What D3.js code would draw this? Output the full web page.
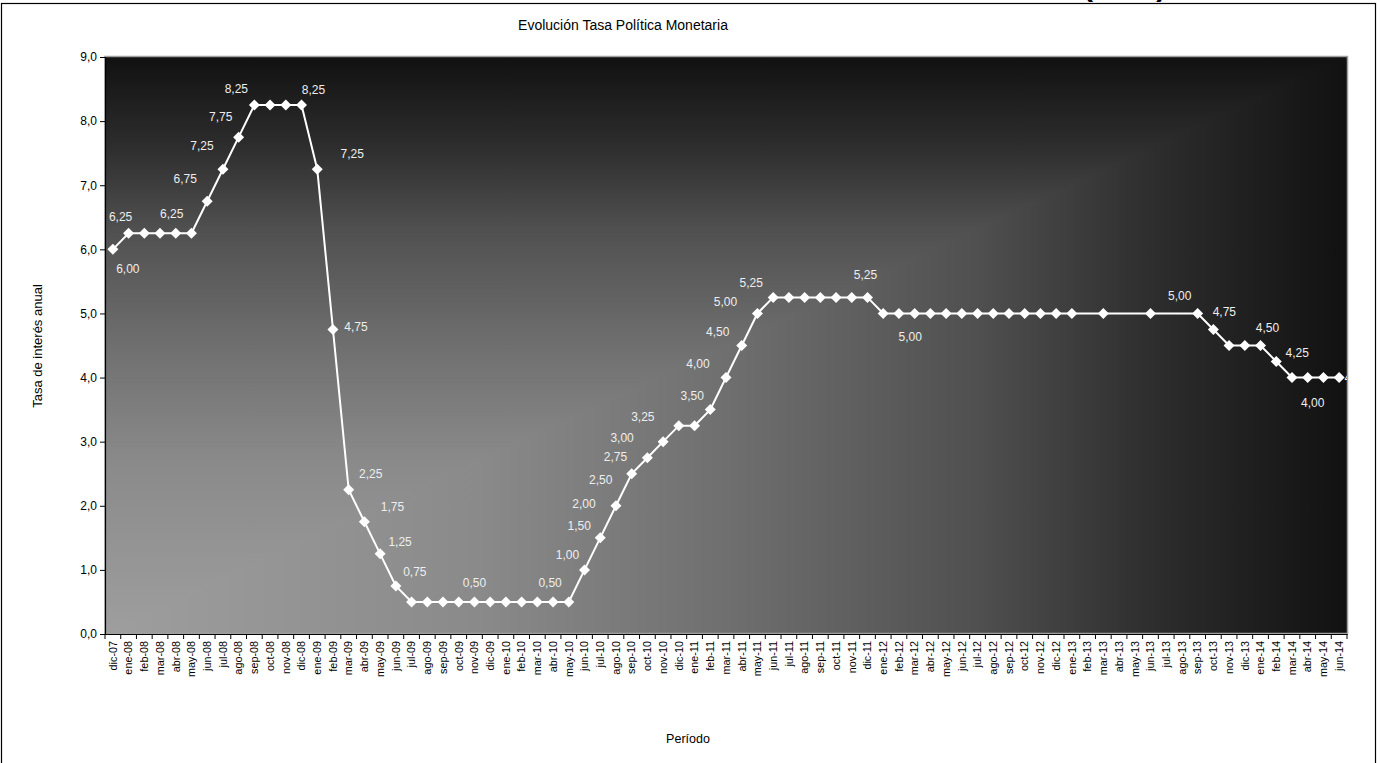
<html>
<head>
<meta charset="utf-8">
<script src="https://d3js.org/d3.v7.min.js"></script>
<style>
  body { margin: 0; background: #fff; }
  text { font-family: "Liberation Sans", Arial, sans-serif; }
</style>
</head>
<body>
<script>
// Tasa de Política Monetaria, dic-07 .. jun-14 (null = month without meeting)
const months = [
  "dic-07",
  "ene-08","feb-08","mar-08","abr-08","may-08","jun-08","jul-08","ago-08","sep-08","oct-08","nov-08","dic-08",
  "ene-09","feb-09","mar-09","abr-09","may-09","jun-09","jul-09","ago-09","sep-09","oct-09","nov-09","dic-09",
  "ene-10","feb-10","mar-10","abr-10","may-10","jun-10","jul-10","ago-10","sep-10","oct-10","nov-10","dic-10",
  "ene-11","feb-11","mar-11","abr-11","may-11","jun-11","jul-11","ago-11","sep-11","oct-11","nov-11","dic-11",
  "ene-12","feb-12","mar-12","abr-12","may-12","jun-12","jul-12","ago-12","sep-12","oct-12","nov-12","dic-12",
  "ene-13","feb-13","mar-13","abr-13","may-13","jun-13","jul-13","ago-13","sep-13","oct-13","nov-13","dic-13",
  "ene-14","feb-14","mar-14","abr-14","may-14","jun-14"
];
const tpm = [
  6.00,
  6.25,6.25,6.25,6.25,6.25,6.75,7.25,7.75,8.25,8.25,8.25,8.25,
  7.25,4.75,2.25,1.75,1.25,0.75,0.50,0.50,0.50,0.50,0.50,0.50,
  0.50,0.50,0.50,0.50,0.50,1.00,1.50,2.00,2.50,2.75,3.00,3.25,
  3.25,3.50,4.00,4.50,5.00,5.25,5.25,5.25,5.25,5.25,5.25,5.25,
  5.00,5.00,5.00,5.00,5.00,5.00,5.00,5.00,5.00,5.00,5.00,5.00,
  5.00,null,5.00,null,null,5.00,null,null,5.00,4.75,4.50,4.50,
  4.50,4.25,4.00,4.00,4.00,4.00
];
const yTicks = [0,1,2,3,4,5,6,7,8,9];

// months that carry a data label, and where the label sits relative to the point
const labelled = ["dic-07","ene-08","abr-08","jun-08","jul-08","ago-08","sep-08","dic-08",
  "ene-09","feb-09","mar-09","abr-09","may-09","jun-09","nov-09","abr-10",
  "jun-10","jul-10","ago-10","sep-10","oct-10","nov-10","dic-10",
  "feb-11","mar-11","abr-11","may-11","jun-11","dic-11","ene-12",
  "sep-13","oct-13","ene-14","feb-14","abr-14","jun-14"];
const labelShift = [[15,19],[-8,-17],[-4,-20],[-22,-22],[-21,-23],[-18,-20],[-18,-16],[12,-15],
  [35,-15],[23,-3],[22,-16],[28,-15],[20,-12],[19,-14],[0,-19],[-3,-19],
  [-17,-15],[-21,-12],[-32,-2],[-31,6],[-32,-1],[-41,-4],[-36,-9],
  [-18,-14],[-28,-14],[-24,-14],[-32,-12],[-22,-15],[-2,-23],[27,23],
  [-18,-18],[11,-18],[7,-18],[21,-9],[5,25],[17,0]];

const W = 1381, H = 763;
const plot = {left: 105, right: 1347, top: 57, bottom: 634};
const fmt = d => d.toFixed(2).replace(".", ",");

const svg = d3.select("body").append("svg").attr("width", W).attr("height", H);

// chart frame and the cut-off heading above it
svg.append("text").attr("x", 1083).attr("y", -4)
  .attr("font-size", 30).attr("font-weight", "bold").text("(TPM)");
svg.append("rect").attr("x", 1.5).attr("y", 3.5).attr("width", 1374).attr("height", H)
  .attr("fill", "none").attr("stroke", "#000").attr("stroke-width", 1.2);

let x = d3.scaleBand().domain(months).range([plot.left, plot.right]);
let y = d3.scaleLinear().domain([0, 9]).range([plot.bottom, plot.top]);
let cx = m => x(m) + x.bandwidth() / 2;

// "from corner" shading: t = max(horizontal, vertical) distance from the bottom-left
const defs = svg.append("defs");
const stops = [[0,"#9e9e9e"],[0.3,"#8a8a8a"],[0.5,"#6f6f6f"],[0.7,"#505050"],[0.85,"#2c2c2c"],[1,"#111111"]];
function grad(id, x1, y1, x2, y2){
  let g = defs.append("linearGradient").attr("id", id)
    .attr("x1", x1).attr("y1", y1).attr("x2", x2).attr("y2", y2);
  stops.forEach(s => g.append("stop").attr("offset", s[0]).attr("stop-color", s[1]));
}
grad("gH", 0, 0, 1, 0);
grad("gV", 0, 1, 0, 0);
defs.append("clipPath").attr("id", "plotClip").append("rect")
  .attr("x", plot.left).attr("y", plot.top)
  .attr("width", plot.right - plot.left).attr("height", plot.bottom - plot.top);

svg.append("rect").attr("x", plot.left).attr("y", plot.top)
  .attr("width", plot.right - plot.left).attr("height", plot.bottom - plot.top)
  .attr("fill", "url(#gH)");
svg.append("polygon")
  .attr("points", [[plot.left, plot.bottom],[plot.left, plot.top],[plot.right, plot.top]].join(" "))
  .attr("fill", "url(#gV)");
svg.append("rect").attr("x", plot.left).attr("y", plot.top - 0.5)
  .attr("width", plot.right - plot.left + 0.5).attr("height", plot.bottom - plot.top)
  .attr("fill", "none").attr("stroke", "#a0a0a0").attr("stroke-width", 1.5);

// axes
let yAxis = svg.append("g").attr("transform", `translate(${plot.left},0)`)
  .call(d3.axisLeft(y).tickValues(yTicks).tickSize(5).tickPadding(3).tickFormat(d => d.toFixed(1).replace(".", ",")));
yAxis.selectAll("text").attr("font-size", 12).attr("font-family", "Liberation Sans, Arial").attr("fill", "#000");

let xAxis = svg.append("g").attr("transform", `translate(0,${plot.bottom})`)
  .call(d3.axisBottom(x).tickSize(0).tickPadding(0));
xAxis.selectAll(".tick text")
  .attr("font-size", 10.8).attr("font-family", "Liberation Sans, Arial").attr("fill", "#000")
  .attr("transform", "rotate(-90)").attr("text-anchor", "end")
  .attr("x", -7).attr("y", 0).attr("dy", "0.35em");
// tick marks between categories
xAxis.selectAll(".sep").data(months.concat(["end"])).join("line")
  .attr("x1", (d, i) => plot.left + i * x.bandwidth())
  .attr("x2", (d, i) => plot.left + i * x.bandwidth())
  .attr("y1", 0).attr("y2", 5).attr("stroke", "#000");
svg.selectAll(".domain").attr("stroke", "#000").attr("stroke-width", 1.2);

// series
let pts = months.map((m, i) => ({m: m, v: tpm[i]})).filter(d => d.v !== null);
let g = svg.append("g").attr("clip-path", "url(#plotClip)");
g.append("path").datum(pts)
  .attr("d", d3.line().x(d => cx(d.m)).y(d => y(d.v)))
  .attr("fill", "none").attr("stroke", "#fff").attr("stroke-width", 2);
const s = 5.5;
g.selectAll(".mk").data(pts).join("path")
  .attr("d", `M0,${-s}L${s},0L0,${s}L${-s},0Z`)
  .attr("transform", d => `translate(${cx(d.m)},${y(d.v)})`)
  .attr("fill", "#fff");

g.selectAll(".lbl").data(labelled).join("text")
  .attr("x", (m, i) => cx(m) + labelShift[i][0])
  .attr("y", (m, i) => y(tpm[months.indexOf(m)]) + labelShift[i][1])
  .attr("text-anchor", "middle").attr("dy", "0.35em")
  .attr("font-size", 12).attr("fill", "#eeeeee")
  .text(m => fmt(tpm[months.indexOf(m)]));

// titles
svg.append("text").attr("x", 623).attr("y", 30).attr("text-anchor", "middle")
  .attr("font-size", 14).text("Evolución Tasa Política Monetaria");
svg.append("text").attr("transform", "translate(42,346) rotate(-90)").attr("text-anchor", "middle")
  .attr("font-size", 13).text("Tasa de interés anual");
svg.append("text").attr("x", 688).attr("y", 743).attr("text-anchor", "middle")
  .attr("font-size", 12.5).text("Período");
</script>
</body>
</html>
